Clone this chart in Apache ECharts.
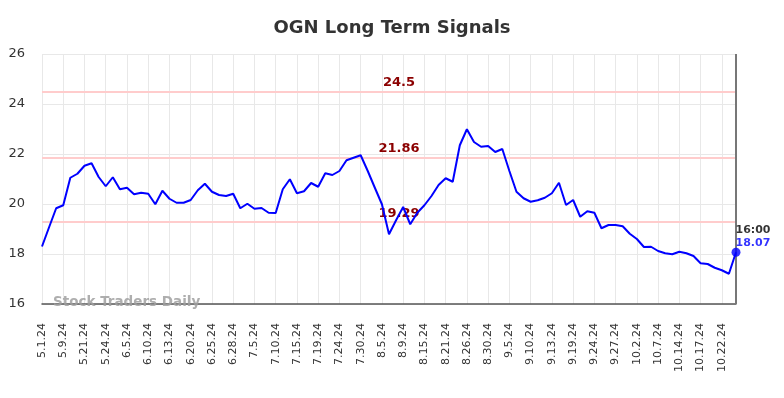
<!DOCTYPE html>
<html>
<head>
<meta charset="utf-8">
<script src="https://cdn.jsdelivr.net/npm/echarts@6/dist/echarts.min.js"></script>
<style>
  html, body { margin: 0; padding: 0; background: #fff; }
  #chart { width: 784px; height: 398px; }
</style>
</head>
<body>
<div id="chart"></div>
<script>
var dates = [
  '5.1.24', '5.3.24', '5.7.24', '5.9.24', '5.14.24', '5.17.24', '5.21.24', '5.22.24', '5.23.24',
  '5.24.24', '5.29.24', '6.3.24', '6.5.24', '6.6.24', '6.7.24', '6.10.24', '6.11.24', '6.12.24',
  '6.13.24', '6.14.24', '6.18.24', '6.20.24', '6.21.24', '6.24.24', '6.25.24', '6.26.24', '6.27.24',
  '6.28.24', '7.1.24', '7.3.24', '7.5.24', '7.8.24', '7.9.24', '7.10.24', '7.11.24', '7.12.24',
  '7.15.24', '7.16.24', '7.18.24', '7.19.24', '7.22.24', '7.23.24', '7.24.24', '7.25.24', '7.29.24',
  '7.30.24', '8.1.24', '8.2.24', '8.5.24', '8.6.24', '8.8.24', '8.9.24', '8.12.24', '8.14.24',
  '8.15.24', '8.16.24', '8.20.24', '8.21.24', '8.22.24', '8.23.24', '8.26.24', '8.27.24', '8.29.24',
  '8.30.24', '9.3.24', '9.4.24', '9.5.24', '9.6.24', '9.9.24', '9.10.24', '9.11.24', '9.12.24',
  '9.13.24', '9.17.24', '9.18.24', '9.19.24', '9.20.24', '9.23.24', '9.24.24', '9.25.24', '9.26.24',
  '9.27.24', '9.30.24', '10.1.24', '10.2.24', '10.3.24', '10.4.24', '10.7.24', '10.9.24', '10.11.24',
  '10.14.24', '10.15.24', '10.16.24', '10.17.24', '10.18.24', '10.21.24', '10.22.24', '10.23.24', '10.24.24'
];

var prices = [
  18.30, 19.07, 19.83, 19.95, 21.05, 21.21, 21.53, 21.63, 21.08,
  20.71, 21.07, 20.59, 20.65, 20.39, 20.45, 20.41, 19.99, 20.53,
  20.21, 20.05, 20.05, 20.16, 20.55, 20.81, 20.49, 20.36, 20.32,
  20.41, 19.83, 20.01, 19.81, 19.84, 19.65, 19.64, 20.59, 20.99,
  20.43, 20.51, 20.84, 20.69, 21.23, 21.16, 21.32, 21.75, 21.85,
  21.95, 21.32, 20.65, 19.99, 18.79, 19.35, 19.88, 19.19, 19.65,
  19.95, 20.32, 20.76, 21.03, 20.89, 22.35, 22.99, 22.48, 22.29,
  22.32, 22.08, 22.20, 21.32, 20.49, 20.23, 20.09, 20.15, 20.25,
  20.43, 20.85, 19.96, 20.16, 19.49, 19.71, 19.65, 19.03, 19.16,
  19.16, 19.11, 18.81, 18.60, 18.28, 18.29, 18.12, 18.03, 17.99,
  18.09, 18.03, 17.92, 17.63, 17.60, 17.45, 17.35, 17.21, 18.07
];

var signalLevels = [24.5, 21.86, 19.29];
var lastTime = '16:00';

var chart = echarts.init(document.getElementById('chart'));
var lastIdx = prices.length - 1;
var font = 'DejaVu Sans';

var levelLines = signalLevels.map(function (v) {
  return { yAxis: v };
});
levelLines.push({
  xAxis: lastIdx,
  lineStyle: { color: '#777', width: 2, type: 'solid' },
  label: { show: false }
});

var option = {
  animation: false,
  title: {
    text: 'OGN Long Term Signals',
    left: 'center',
    top: 14,
    textStyle: { fontFamily: font, fontSize: 18, fontWeight: 'bold', color: '#333' }
  },
  grid: { left: 42, right: 48, top: 54, bottom: 94 },
  xAxis: {
    type: 'category',
    data: dates,
    boundaryGap: false,
    axisLine: { lineStyle: { color: '#555', width: 1.5 } },
    axisTick: { show: false },
    axisLabel: {
      interval: 2,
      rotate: 90,
      margin: 19,
      fontFamily: font,
      fontSize: 11,
      color: '#333'
    },
    splitLine: { show: true, interval: 2, lineStyle: { color: '#e8e8e8', width: 1 } }
  },
  yAxis: {
    type: 'value',
    min: 16,
    max: 26,
    interval: 2,
    axisLine: { show: false },
    axisTick: { show: false },
    axisLabel: { fontFamily: font, fontSize: 13, color: '#333', margin: 17 },
    splitLine: { lineStyle: { color: '#e8e8e8', width: 1 } }
  },
  graphic: [{
    type: 'text',
    left: 53,
    top: 295,
    z: 100,
    style: {
      text: 'Stock Traders Daily',
      fontFamily: font,
      fontSize: 13.5,
      fontWeight: 'bold',
      fill: 'rgba(160,160,160,0.85)'
    }
  }],
  series: [
    {
      type: 'line',
      data: prices,
      symbol: 'none',
      lineStyle: { color: '#0000ff', width: 2 },
      z: 5,
      markLine: {
        silent: true,
        symbol: 'none',
        lineStyle: { color: '#ffcccc', width: 2, type: 'solid' },
        label: {
          position: 'insideMiddleTop',
          offset: [10, 0],
          distance: 2,
          formatter: '{c}',
          fontFamily: font,
          fontSize: 13,
          fontWeight: 'bold',
          color: '#8b0000'
        },
        data: levelLines
      }
    },
    {
      type: 'scatter',
      data: [[lastIdx, prices[lastIdx]]],
      symbolSize: 9,
      itemStyle: { color: '#0000ff' },
      z: 10,
      label: {
        show: true,
        position: [4, -24],
        formatter: '{t|' + lastTime + '}\n{v|' + prices[lastIdx].toFixed(2) + '}',
        rich: {
          t: { fontFamily: font, fontSize: 11, fontWeight: 'bold', color: '#000', lineHeight: 13 },
          v: { fontFamily: font, fontSize: 11, fontWeight: 'bold', color: '#0000ff', lineHeight: 13 }
        }
      }
    }
  ]
};

chart.setOption(option);
</script>
</body>
</html>
